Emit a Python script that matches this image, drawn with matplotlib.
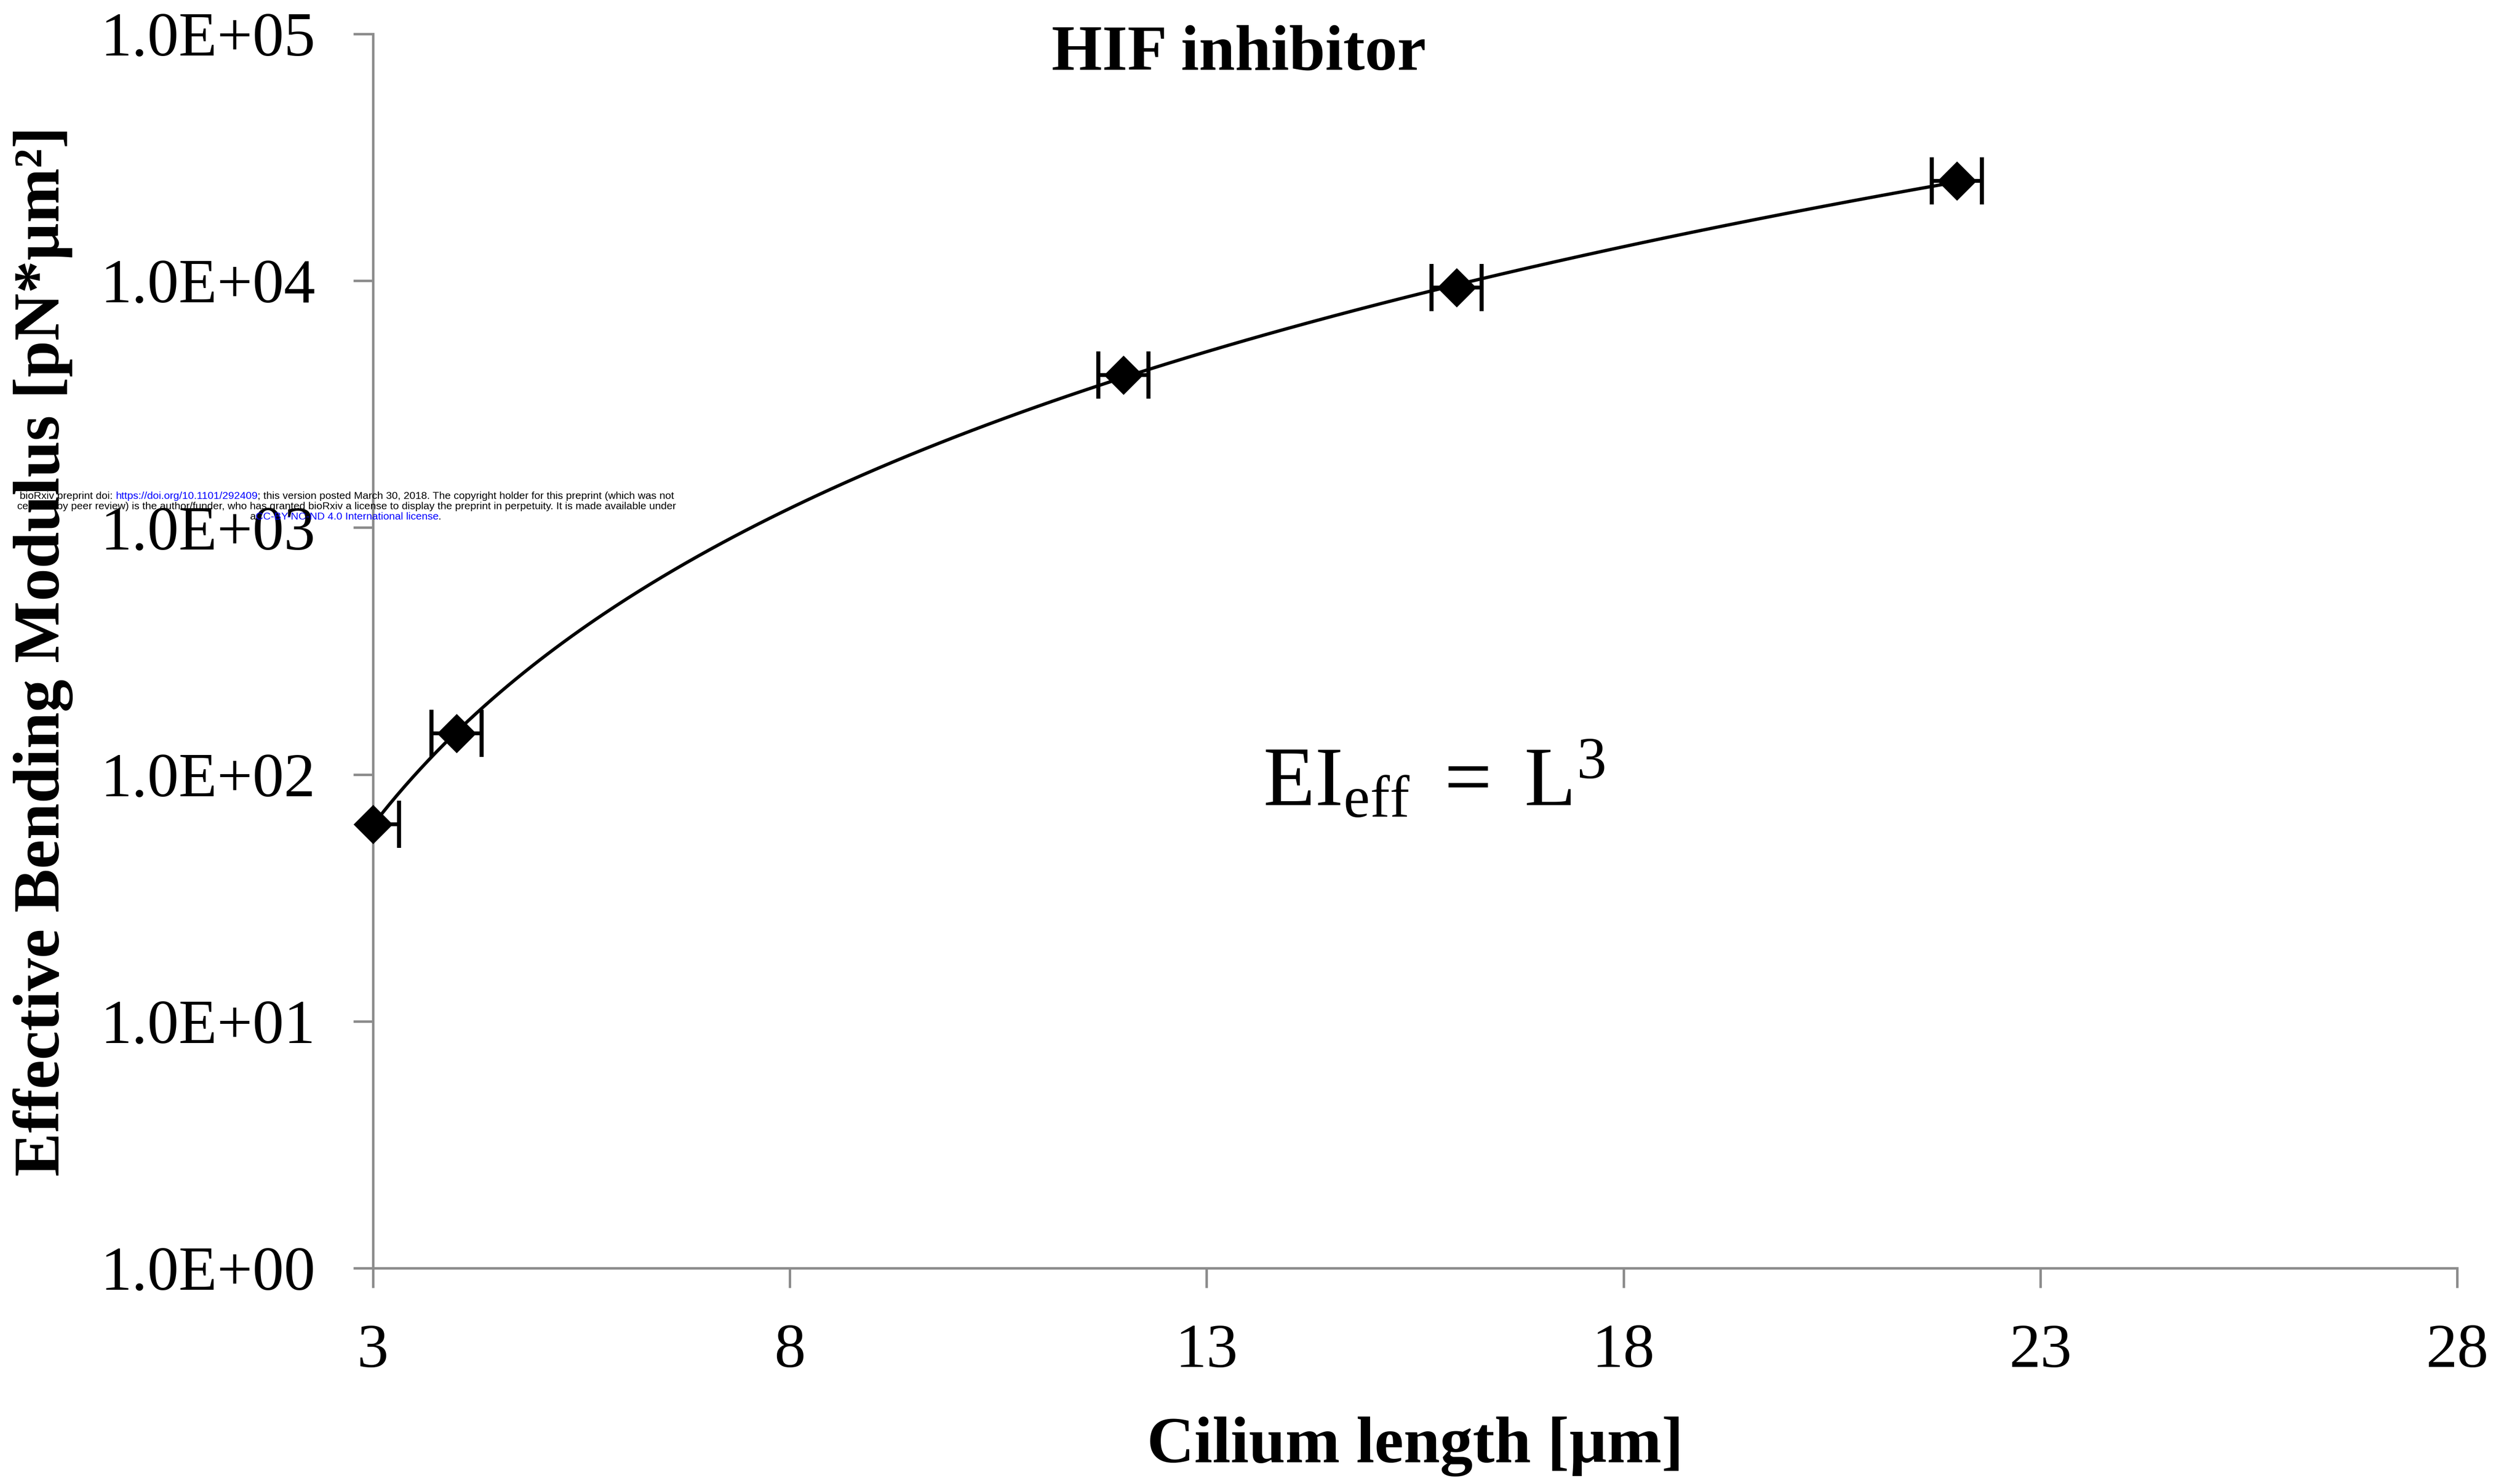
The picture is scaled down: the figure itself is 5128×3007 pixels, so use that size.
import numpy as np
import matplotlib
matplotlib.use('Agg')
import matplotlib.pyplot as plt
from matplotlib.font_manager import FontProperties
from matplotlib.transforms import offset_copy
from matplotlib.ticker import NullLocator

# ---------------- data ----------------
length_um = [3.0, 4.0, 12.0, 16.0, 22.0]
modulus = [62.9, 146.9, 4144.0, 9387.0, 25350.0]
length_err = [0.31, 0.30, 0.30, 0.30, 0.30]
x_ticks = [3, 8, 13, 18, 23, 28]
y_ticks = [1e0, 1e1, 1e2, 1e3, 1e4, 1e5]
y_tick_labels = ['1.0E+00', '1.0E+01', '1.0E+02', '1.0E+03', '1.0E+04', '1.0E+05']
title = 'HIF inhibitor'
x_label = 'Cilium length [\u00b5m]'
y_label = 'Effective Bending Modulus [pN*\u00b5m\u00b2]'

plt.rcParams['font.family'] = ['Liberation Serif', 'DejaVu Serif']
plt.rcParams['mathtext.fontset'] = 'custom'
plt.rcParams['mathtext.rm'] = 'Liberation Serif'
plt.rcParams['mathtext.it'] = 'Liberation Serif:italic'
plt.rcParams['mathtext.bf'] = 'Liberation Serif:bold'

W, H, DPI = 5128, 3007, 200
fig = plt.figure(figsize=(W / DPI, H / DPI), dpi=DPI)
fig.patch.set_facecolor('white')
ax = fig.add_axes([759 / W, 1 - 2580 / H, (5000 - 759) / W, (2580 - 69) / H])
ax.set_yscale('log')
ax.set_xlim(3, 28)
ax.set_ylim(1, 1e5)

axis_gray = '#8c8c8c'
for s in ['top', 'right']:
    ax.spines[s].set_visible(False)
for s in ['left', 'bottom']:
    ax.spines[s].set_color(axis_gray)
    ax.spines[s].set_linewidth(1.8)

ax.set_xticks(x_ticks)
ax.set_xticklabels([str(t) for t in x_ticks])
ax.set_yticks(y_ticks)
ax.set_yticklabels(y_tick_labels)
ax.yaxis.set_minor_locator(NullLocator())
ax.xaxis.set_minor_locator(NullLocator())
ax.tick_params(axis='both', direction='out', length=14.4, width=1.8,
               color=axis_gray, labelsize=46, labelcolor='black')
ax.tick_params(axis='y', pad=27.7)
ax.tick_params(axis='x', pad=26)

# power-law trendline fitted to the data
b, ln_a = np.polyfit(np.log(length_um), np.log(modulus), 1)
xs = np.linspace(min(length_um), max(length_um), 400)
ax.plot(xs, np.exp(ln_a) * xs ** b, color='black', lw=2.4, zorder=3)

ax.errorbar(length_um, modulus, xerr=length_err, fmt='none', ecolor='black',
            elinewidth=2.8, capsize=17.4, capthick=3.0, zorder=4)
ax.plot(length_um, modulus, ls='none', marker='D', ms=19.5, color='black',
        clip_on=False, zorder=5)

# titles and labels
fig.text(2521 / W, 1 - 110 / H, title, ha='center', va='center',
         fontsize=47.5, fontweight='bold')
fig.text((759 + 5000) / 2 / W, 1 - 2975 / H, x_label, ha='center', va='baseline',
         fontsize=48, fontweight='bold')
fig.text(88 / W, 1 - (69 + 2580) / 2 / H, y_label, ha='center', va='center',
         rotation=90, fontsize=48, fontweight='bold')

fig.text(2570 / W, 1 - 1638 / H, r'$\mathregular{EI_{eff}\ =\ L^{3}}$',
         ha='left', va='baseline', fontsize=62)

# bioRxiv notice (multi-colour lines)
fig.canvas.draw()
renderer = fig.canvas.get_renderer()


def text_w(s, fp):
    w, h, d = renderer.get_text_width_height_descent(s, fp, ismath=False)
    return w


notice_lines = [
    (40, 1015, [("bioRxiv preprint doi: ", 'black'),
                ("https://doi.org/10.1101/292409", '#0000ff'),
                ("; this version posted March 30, 2018. The copyright holder for this preprint (which was not", 'black')]),
    (35, 1036, [("certified by peer review) is the author/funder, who has granted bioRxiv a license to display the preprint in perpetuity. It is made available under", 'black')]),
    (508, 1057, [("a", 'black'),
                 ("CC-BY-NC-ND 4.0 International license", '#0000ff'),
                 (".", 'black')]),
]

fp10 = FontProperties(family='Liberation Sans', size=10)
full1 = ''.join(p for p, c in notice_lines[0][2])
w10 = text_w(full1 + 'x', fp10) - text_w('x', fp10)
nsize = 10 * 1327 / w10
fpn = FontProperties(family='Liberation Sans', size=nsize)

for x0, base, pieces in notice_lines:
    prefix = ''
    for piece, col in pieces:
        dx = text_w(prefix + 'x', fpn) - text_w('x', fpn) if prefix else 0.0
        tr = offset_copy(fig.transFigure, fig=fig, x=dx, y=0, units='dots')
        fig.text(x0 / W, 1 - base / H, piece, transform=tr, ha='left', va='baseline',
                 fontproperties=fpn, color=col, zorder=10)
        prefix += piece

fig.savefig('out.png', dpi=DPI, facecolor='white')
